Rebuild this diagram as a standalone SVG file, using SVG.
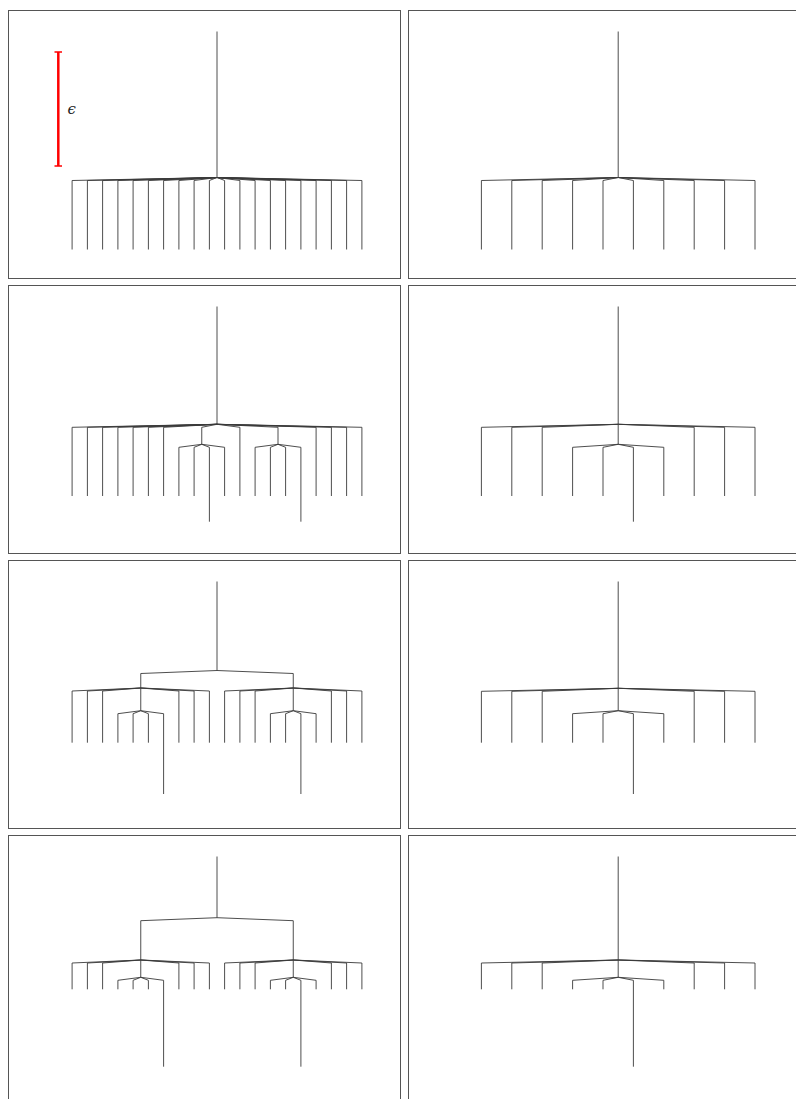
<svg xmlns="http://www.w3.org/2000/svg" width="796" height="1099" viewBox="0 0 796 1099">
<style>
.frame{fill:none;stroke:#555;stroke-width:1}
.edge{fill:none;stroke:#3a3a3a;stroke-width:0.9;stroke-linejoin:miter}
.scale{stroke:#ff0000;fill:none}
.lbl{font-family:"DejaVu Serif","Liberation Serif",serif;font-style:italic;font-size:15px;fill:#222}
</style>
<rect width="796" height="1099" fill="#fff"/>

<g id="panel-1">
<rect class="frame" x="8.5" y="10.5" width="392" height="268"/>
<g id="scale-bar">
<path class="scale" stroke-width="2.5" d="M58.3,52V166"/>
<path class="scale" stroke-width="1.6" d="M54.5,52H62M54.5,166H62"/>
<text class="lbl" x="67.5" y="114">ϵ</text>
</g>
<g id="panel-1-edges" class="edge">
<path d="M217,31.5V177.5
M217,177.5L72.1,180.5V249.5M217,177.5L87.4,180.5V249.5M217,177.5L102.6,180.5V249.5M217,177.5L117.9,180.5V249.5
M217,177.5L133.1,180.5V249.5M217,177.5L148.4,180.5V249.5M217,177.5L163.6,180.5V249.5M217,177.5L178.9,180.5V249.5
M217,177.5L194.1,180.5V249.5M217,177.5L209.4,180.5V249.5M217,177.5L224.6,180.5V249.5M217,177.5L239.9,180.5V249.5
M217,177.5L255.1,180.5V249.5M217,177.5L270.4,180.5V249.5M217,177.5L285.6,180.5V249.5M217,177.5L300.9,180.5V249.5
M217,177.5L316.1,180.5V249.5M217,177.5L331.4,180.5V249.5M217,177.5L346.6,180.5V249.5M217,177.5L361.9,180.5V249.5"/>
</g>
</g>

<g id="panel-2">
<rect class="frame" x="408.5" y="10.5" width="392" height="268"/>
<g id="panel-2-edges" class="edge">
<path d="M618.2,31.5V177.5
M618.2,177.5L481.4,180.5V249.5M618.2,177.5L511.8,180.5V249.5M618.2,177.5L542.2,180.5V249.5M618.2,177.5L572.6,180.5V249.5
M618.2,177.5L603,180.5V249.5M618.2,177.5L633.4,180.5V249.5M618.2,177.5L663.8,180.5V249.5M618.2,177.5L694.2,180.5V249.5
M618.2,177.5L724.6,180.5V249.5M618.2,177.5L755,180.5V249.5"/>
</g>
</g>

<g id="panel-3">
<rect class="frame" x="8.5" y="285.5" width="392" height="268"/>
<g id="panel-3-edges" class="edge">
<path d="M217,306.5V424.3
M217,424.3L72.1,427.3V496M217,424.3L87.4,427.3V496M217,424.3L102.6,427.3V496M217,424.3L117.9,427.3V496
M217,424.3L133.1,427.3V496M217,424.3L148.4,427.3V496M217,424.3L163.6,427.3V496
M217,424.3L201.75,427.3V444.3
M201.75,444.3L178.9,447.3V496M201.75,444.3L194.1,447.3V496M201.75,444.3L209.4,447.3V521.7M201.75,444.3L224.6,447.3V496
M217,424.3L239.9,427.3V496
M217,424.3L278,427.3V444.3
M278,444.3L255.1,447.3V496M278,444.3L270.4,447.3V496M278,444.3L285.6,447.3V496M278,444.3L300.9,447.3V521.7
M217,424.3L316.1,427.3V496M217,424.3L331.4,427.3V496M217,424.3L346.6,427.3V496M217,424.3L361.9,427.3V496"/>
</g>
</g>

<g id="panel-4">
<rect class="frame" x="408.5" y="285.5" width="392" height="268"/>
<g id="panel-4-edges" class="edge">
<path d="M618.2,306.5V444.3
M618.2,424.3L481.4,427.3V496M618.2,424.3L511.8,427.3V496M618.2,424.3L542.2,427.3V496
M618.2,444.3L572.6,447.3V496M618.2,444.3L603,447.3V496M618.2,444.3L633.4,447.3V521.7M618.2,444.3L663.8,447.3V496
M618.2,424.3L694.2,427.3V496M618.2,424.3L724.6,427.3V496M618.2,424.3L755,427.3V496"/>
</g>
</g>

<g id="panel-5">
<rect class="frame" x="8.5" y="560.5" width="392" height="268"/>
<g id="panel-5-edges" class="edge">
<path d="M217,581.5V670.5
M217,670.5L140.75,673.5V710.7M217,670.5L293.25,673.5V710.7
M140.75,688L72.1,691V742.7M140.75,688L87.4,691V742.7M140.75,688L102.6,691V742.7
M140.75,688L178.9,691V742.7M140.75,688L194.1,691V742.7M140.75,688L209.4,691V742.7
M140.75,710.7L117.9,713.7V742.7M140.75,710.7L133.1,713.7V742.7M140.75,710.7L148.4,713.7V742.7M140.75,710.7L163.6,713.7V794
M293.25,688L224.6,691V742.7M293.25,688L239.9,691V742.7M293.25,688L255.1,691V742.7
M293.25,688L331.4,691V742.7M293.25,688L346.6,691V742.7M293.25,688L361.9,691V742.7
M293.25,710.7L270.4,713.7V742.7M293.25,710.7L285.6,713.7V742.7M293.25,710.7L300.9,713.7V794M293.25,710.7L316.1,713.7V742.7"/>
</g>
</g>

<g id="panel-6">
<rect class="frame" x="408.5" y="560.5" width="392" height="268"/>
<g id="panel-6-edges" class="edge">
<path d="M618.2,581.5V710.7
M618.2,688.3L481.4,691.3V742.7M618.2,688.3L511.8,691.3V742.7M618.2,688.3L542.2,691.3V742.7
M618.2,710.7L572.6,713.7V742.7M618.2,710.7L603,713.7V742.7M618.2,710.7L633.4,713.7V794M618.2,710.7L663.8,713.7V742.7
M618.2,688.3L694.2,691.3V742.7M618.2,688.3L724.6,691.3V742.7M618.2,688.3L755,691.3V742.7"/>
</g>
</g>

<g id="panel-7">
<rect class="frame" x="8.5" y="835.5" width="392" height="268"/>
<g id="panel-7-edges" class="edge">
<path d="M217,856.5V917.7
M217,917.7L140.75,920.7V977.3M217,917.7L293.25,920.7V977.3
M140.75,960L72.1,963V989.3M140.75,960L87.4,963V989.3M140.75,960L102.6,963V989.3
M140.75,960L178.9,963V989.3M140.75,960L194.1,963V989.3M140.75,960L209.4,963V989.3
M140.75,977.3L117.9,980.3V989.3M140.75,977.3L133.1,980.3V989.3M140.75,977.3L148.4,980.3V989.3M140.75,977.3L163.6,980.3V1066.7
M293.25,960L224.6,963V989.3M293.25,960L239.9,963V989.3M293.25,960L255.1,963V989.3
M293.25,960L331.4,963V989.3M293.25,960L346.6,963V989.3M293.25,960L361.9,963V989.3
M293.25,977.3L270.4,980.3V989.3M293.25,977.3L285.6,980.3V989.3M293.25,977.3L300.9,980.3V1066.7M293.25,977.3L316.1,980.3V989.3"/>
</g>
</g>

<g id="panel-8">
<rect class="frame" x="408.5" y="835.5" width="392" height="268"/>
<g id="panel-8-edges" class="edge">
<path d="M618.2,856.5V977.3
M618.2,960L481.4,963V989.3M618.2,960L511.8,963V989.3M618.2,960L542.2,963V989.3
M618.2,977.3L572.6,980.3V989.3M618.2,977.3L603,980.3V989.3M618.2,977.3L633.4,980.3V1066.7M618.2,977.3L663.8,980.3V989.3
M618.2,960L694.2,963V989.3M618.2,960L724.6,963V989.3M618.2,960L755,963V989.3"/>
</g>
</g>
</svg>
